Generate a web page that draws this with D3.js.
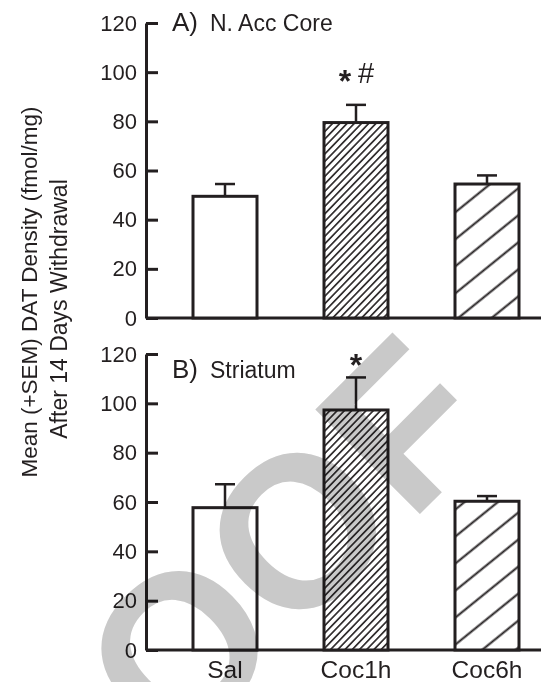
<!DOCTYPE html>
<html>
<head>
<meta charset="utf-8">
<script src="https://cdn.jsdelivr.net/npm/d3@7"></script>
<style>
  body { margin: 0; background: #fff; }
  svg { display: block; font-family: "Liberation Sans", Arial, sans-serif; }
  .axis path, .axis line { stroke: #231f20; stroke-width: 3; }
  .axis text { font-size: 22px; fill: #231f20; }
</style>
</head>
<body>
<svg id="svg" width="541" height="682"></svg>
<script>
const W = 541,
    H = 682;

// data
const categories = ["Sal", "Coc1h", "Coc6h"];
const yTicks = [0, 20, 40, 60, 80, 100, 120];
const accMeans = [49.5, 79.5, 54.5];
const accSem = [5, 7.2, 3.5];
const strMeans = [57.7, 97.3, 60.3];
const strSem = [9.5, 13.2, 2.1];
const panelTags = ["A)", "B)"];
const panelNames = ["N. Acc Core", "Striatum"];
const accSig = ["", "*#", ""];
const strSig = ["", "*", ""];
const fills = ["white", "url(#dense)", "url(#sparse)"];

const svg = d3.select("#svg"),
    ink = "#231f20",
    x = d3.scalePoint().domain(categories).range([225, 487]),
    bw = 64;

// hatch patterns
const defs = svg.append("defs");
function hatch(id, gap, angle, sw) {
    const p = defs.append("pattern").attr("id", id).attr("patternUnits", "userSpaceOnUse")
        .attr("width", gap).attr("height", 40).attr("patternTransform", `rotate(${angle})`);
    p.append("rect").attr("width", gap).attr("height", 40).attr("fill", "white");
    p.append("line").attr("x1", gap / 2).attr("x2", gap / 2).attr("y1", 0).attr("y2", 40)
        .attr("stroke", ink).attr("stroke-width", sw);
}
hatch("dense", 5.2, 44, 1.6);
hatch("sparse", 21, 51, 2);

function panel(means, sem, sig, tag, name, y0, y1, titleY) {
    const y = d3.scaleLinear().domain([0, 120]).range([y0, y1]);
    const g = svg.append("g");

    g.append("g").attr("class", "axis").attr("transform", "translate(146,0)")
        .call(d3.axisLeft(y).tickValues(yTicks).tickSizeInner(-12).tickSizeOuter(0).tickPadding(9));

    g.append("line").attr("x1", 146).attr("x2", W).attr("y1", y(0)).attr("y2", y(0))
        .attr("stroke", ink).attr("stroke-width", 3);

    // error bars
    categories.forEach((c, i) => {
        const cx = x(c), top = y(means[i] + sem[i]);
        g.append("line").attr("x1", cx).attr("x2", cx).attr("y1", y(means[i])).attr("y2", top)
            .attr("stroke", ink).attr("stroke-width", 2.5);
        g.append("line").attr("x1", cx - 10).attr("x2", cx + 10).attr("y1", top).attr("y2", top)
            .attr("stroke", ink).attr("stroke-width", 2.5);
    });

    g.selectAll(".bar").data(means).join("rect")
        .attr("x", (d, i) => x(categories[i]) - bw / 2)
        .attr("y", d => y(d))
        .attr("width", bw)
        .attr("height", d => y(0) - y(d))
        .attr("fill", (d, i) => fills[i])
        .attr("stroke", ink).attr("stroke-width", 3);

    categories.forEach((c, i) => {
        if (!sig[i]) return;
        const cx = x(c), top = y(means[i] + sem[i]);
        if (sig[i].includes("#")) {
            g.append("text").attr("x", cx - 11).attr("y", top - 13).attr("text-anchor", "middle")
                .attr("font-size", 32).attr("font-weight", "bold").attr("fill", ink).text("*");
            g.append("text").attr("x", cx + 10).attr("y", top - 22).attr("text-anchor", "middle")
                .attr("font-size", 29).attr("fill", ink).text("#");
        } else {
            g.append("text").attr("x", cx).attr("y", top - 1).attr("text-anchor", "middle")
                .attr("font-size", 32).attr("font-weight", "bold").attr("fill", ink).text(sig[i]);
        }
    });

    g.append("text").attr("x", 172).attr("y", titleY).attr("font-size", 26).attr("fill", ink).text(tag);
    g.append("text").attr("x", 210).attr("y", titleY).attr("font-size", 23).attr("fill", ink).text(name);
    return y;
}

panel(accMeans, accSem, accSig, panelTags[0], panelNames[0], 318, 23, 31);
panel(strMeans, strSem, strSig, panelTags[1], panelNames[1], 650, 354, 378);

svg.append("g").selectAll("text").data(categories).join("text")
    .attr("x", d => x(d)).attr("y", 678).attr("text-anchor", "middle")
    .attr("font-size", 24.5).attr("fill", ink).text(d => d);

svg.append("text").attr("transform", "translate(37,292) rotate(-90)").attr("text-anchor", "middle")
    .attr("font-size", 22.5).attr("fill", ink).text("Mean (+SEM) DAT Density (fmol/mg)");
svg.append("text").attr("transform", "translate(67,309) rotate(-90)").attr("text-anchor", "middle")
    .attr("font-size", 23).attr("fill", ink).text("After 14 Days Withdrawal");

// watermark on top, multiplied so the ink stays black
svg.append("text").attr("transform", "translate(-38,972) rotate(-45)")
    .attr("font-size", 215).attr("font-weight", "bold").attr("fill", "#c9c9c9")
    .style("mix-blend-mode", "multiply").text("PROOF");
</script>
</body>
</html>
